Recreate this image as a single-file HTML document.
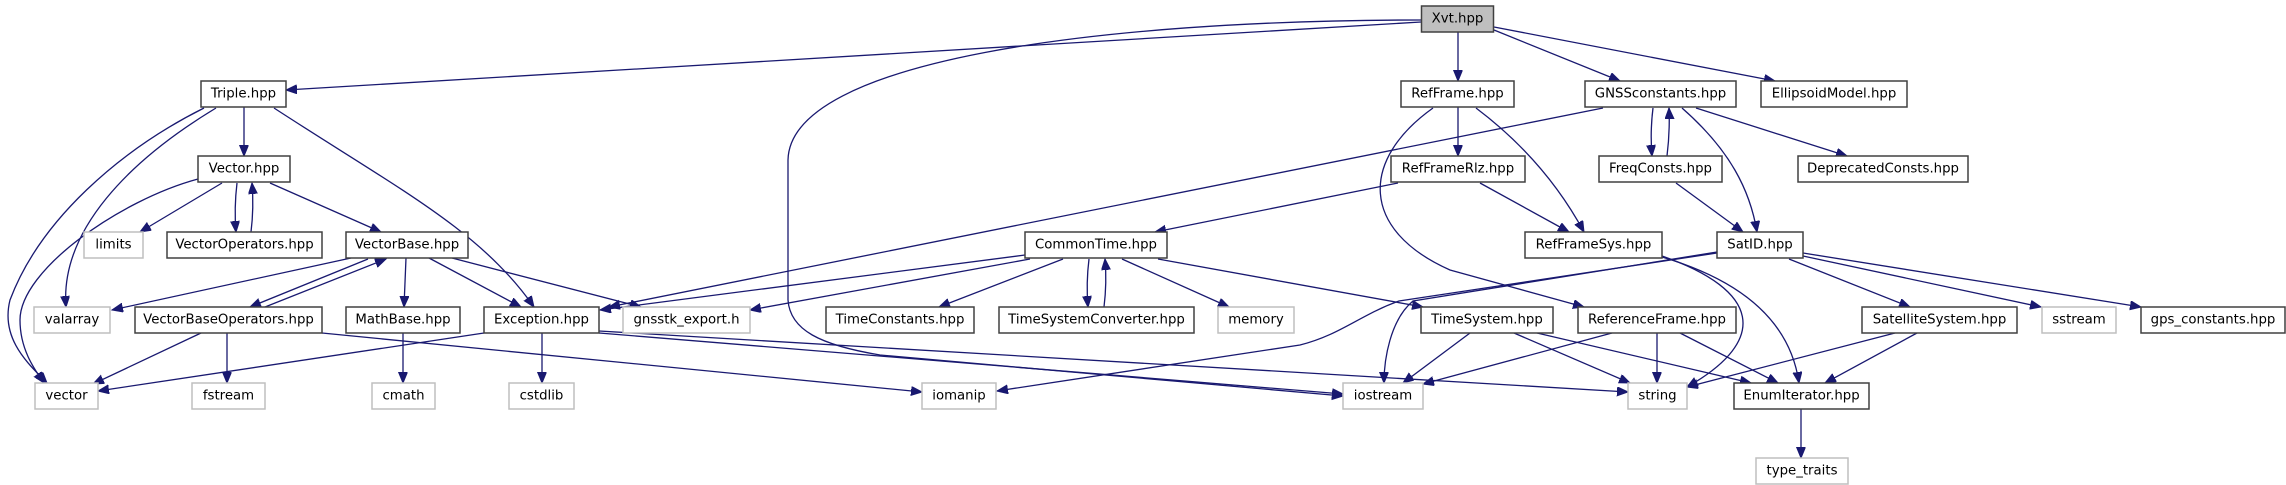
<!DOCTYPE html>
<html><head><meta charset="utf-8"><style>
html,body{margin:0;padding:0;background:#fff;}
svg{display:block;}
text{font-family:"DejaVu Sans","Liberation Sans",sans-serif;font-size:13.3px;fill:#000;text-anchor:middle;dominant-baseline:central;}
.n{fill:#fff;stroke:#404040;stroke-width:1.5;}
.g{fill:#fff;stroke:#bfbfbf;stroke-width:1.5;}
.e{fill:none;stroke:#191970;stroke-width:1.3;marker-end:url(#a);}
</style></head><body>
<svg width="2286" height="485" viewBox="0 0 2286 485" xmlns="http://www.w3.org/2000/svg">
<defs><marker id="a" markerUnits="userSpaceOnUse" markerWidth="12" markerHeight="10" refX="11" refY="4.5" orient="auto"><path d="M0,0 L11,4.5 L0,9 z" fill="#191970" stroke="#191970"/></marker></defs>
<!-- edges -->
<path class="e" d="M1421,22 L286,90"/>
<path class="e" d="M1421,20 C1100,20 790,60 788,160 L788,300 C790,330 820,345 880,355 L1343,396"/>
<path class="e" d="M1458,32 L1458,81"/>
<path class="e" d="M1494,30 L1620,81"/>
<path class="e" d="M1494,27 L1775,81"/>
<path class="e" d="M244,107 L244,156"/>
<path class="e" d="M204,108 C120,150 40,220 10,300 C0,340 30,365 47,383"/>
<path class="e" d="M216,108 C130,160 60,230 66,307"/>
<path class="e" d="M274,108 C400,190 480,230 534,307"/>
<path class="e" d="M222,183 L140,232"/>
<path class="e" d="M237,183 Q234,208 236,232"/>
<path class="e" d="M251,232 Q254,208 252,183"/>
<path class="e" d="M270,183 L381,232"/>
<path class="e" d="M198,179 C120,200 20,270 20,320 C20,350 35,370 44,383"/>
<path class="e" d="M351,258 L112,310"/>
<path class="e" d="M368,259 L250,307"/>
<path class="e" d="M265,307 L386,259"/>
<path class="e" d="M406,258 L404,307"/>
<path class="e" d="M429,258 L521,307"/>
<path class="e" d="M452,258 L641,307"/>
<path class="e" d="M201,333 L93,384"/>
<path class="e" d="M227,333 L227,383"/>
<path class="e" d="M322,333 L922,392"/>
<path class="e" d="M403,333 L403,383"/>
<path class="e" d="M542,333 L542,383"/>
<path class="e" d="M484,333 L98,391"/>
<path class="e" d="M599,333 L1343,394"/>
<path class="e" d="M599,331 L1628,392"/>
<path class="e" d="M1603,108 L609,307"/>
<path class="e" d="M1025,255 L600,310"/>
<path class="e" d="M1030,259 L750,310"/>
<path class="e" d="M1063,259 L939,307"/>
<path class="e" d="M1089,259 Q1086,283 1088,307"/>
<path class="e" d="M1104,307 Q1107,283 1105,259"/>
<path class="e" d="M1122,259 L1229,307"/>
<path class="e" d="M1158,259 L1423,307"/>
<path class="e" d="M1458,107 L1458,156"/>
<path class="e" d="M1476,108 Q1545,160 1584,232"/>
<path class="e" d="M1433,108 C1360,160 1360,230 1450,270 L1584,307"/>
<path class="e" d="M1398,183 L1155,232"/>
<path class="e" d="M1480,183 L1569,232"/>
<path class="e" d="M1653,108 Q1650,132 1652,156"/>
<path class="e" d="M1667,156 Q1670,132 1669,108"/>
<path class="e" d="M1682,108 C1730,150 1750,190 1757,232"/>
<path class="e" d="M1696,108 L1847,156"/>
<path class="e" d="M1676,183 L1743,232"/>
<path class="e" d="M1662,256 C1760,290 1770,340 1687,387"/>
<path class="e" d="M1662,257 C1740,280 1790,320 1799,383"/>
<path class="e" d="M1717,252 L1413,301 C1390,320 1384,360 1384,383"/>
<path class="e" d="M1717,253 L1399,301 C1360,315 1340,335 1300,345 L997,391"/>
<path class="e" d="M1789,259 L1910,307"/>
<path class="e" d="M1803,256 L2041,307"/>
<path class="e" d="M1803,253 L2141,307"/>
<path class="e" d="M1470,333 L1403,383"/>
<path class="e" d="M1514,333 L1630,383"/>
<path class="e" d="M1537,333 L1751,383"/>
<path class="e" d="M1612,333 L1423,384"/>
<path class="e" d="M1657,333 L1657,383"/>
<path class="e" d="M1680,333 L1778,383"/>
<path class="e" d="M1895,333 L1687,387"/>
<path class="e" d="M1917,333 L1825,383"/>
<path class="e" d="M1801,409 L1801,458"/>
<!-- nodes -->
<rect x="1421.5" y="6" width="72" height="26" fill="#bfbfbf" stroke="#404040" stroke-width="1.5"/><text x="1457.5" y="19">Xvt.hpp</text>
<rect class="n" x="201" y="81" width="85" height="26"/><text x="243.5" y="94">Triple.hpp</text>
<rect class="n" x="1401" y="81" width="113" height="26"/><text x="1457.5" y="94">RefFrame.hpp</text>
<rect class="n" x="1585" y="81" width="151" height="26"/><text x="1660.5" y="94">GNSSconstants.hpp</text>
<rect class="n" x="1761" y="81" width="146" height="26"/><text x="1834" y="94">EllipsoidModel.hpp</text>
<rect class="n" x="198" y="156" width="92" height="26"/><text x="244" y="169">Vector.hpp</text>
<rect class="n" x="1391" y="156" width="134" height="26"/><text x="1458" y="169">RefFrameRlz.hpp</text>
<rect class="n" x="1599" y="156" width="123" height="26"/><text x="1660.5" y="169">FreqConsts.hpp</text>
<rect class="n" x="1798" y="156" width="170" height="26"/><text x="1883" y="169">DeprecatedConsts.hpp</text>
<rect class="g" x="84" y="232" width="59" height="26"/><text x="113.5" y="245">limits</text>
<rect class="n" x="167" y="232" width="155" height="26"/><text x="244.5" y="245">VectorOperators.hpp</text>
<rect class="n" x="346" y="232" width="122" height="26"/><text x="407" y="245">VectorBase.hpp</text>
<rect class="n" x="1025" y="232" width="142" height="26"/><text x="1096" y="245">CommonTime.hpp</text>
<rect class="n" x="1525" y="232" width="137" height="26"/><text x="1593.5" y="245">RefFrameSys.hpp</text>
<rect class="n" x="1717" y="232" width="86" height="26"/><text x="1760" y="245">SatID.hpp</text>
<rect class="g" x="34" y="307" width="76" height="26"/><text x="72" y="320">valarray</text>
<rect class="n" x="135" y="307" width="187" height="26"/><text x="228.5" y="320">VectorBaseOperators.hpp</text>
<rect class="n" x="346" y="307" width="114" height="26"/><text x="403" y="320">MathBase.hpp</text>
<rect class="n" x="484" y="307" width="115" height="26"/><text x="541.5" y="320">Exception.hpp</text>
<rect class="g" x="623" y="307" width="127" height="26"/><text x="686.5" y="320">gnsstk_export.h</text>
<rect class="n" x="826" y="307" width="148" height="26"/><text x="900" y="320">TimeConstants.hpp</text>
<rect class="n" x="999" y="307" width="195" height="26"/><text x="1096.5" y="320">TimeSystemConverter.hpp</text>
<rect class="g" x="1218" y="307" width="76" height="26"/><text x="1256" y="320">memory</text>
<rect class="n" x="1421" y="307" width="132" height="26"/><text x="1487" y="320">TimeSystem.hpp</text>
<rect class="n" x="1578" y="307" width="158" height="26"/><text x="1657" y="320">ReferenceFrame.hpp</text>
<rect class="n" x="1862" y="307" width="155" height="26"/><text x="1939.5" y="320">SatelliteSystem.hpp</text>
<rect class="g" x="2042" y="307" width="74" height="26"/><text x="2079" y="320">sstream</text>
<rect class="n" x="2141" y="307" width="144" height="26"/><text x="2213" y="320">gps_constants.hpp</text>
<rect class="g" x="35" y="383" width="63" height="26"/><text x="66.5" y="396">vector</text>
<rect class="g" x="192" y="383" width="73" height="26"/><text x="228.5" y="396">fstream</text>
<rect class="g" x="372" y="383" width="63" height="26"/><text x="403.5" y="396">cmath</text>
<rect class="g" x="509" y="383" width="65" height="26"/><text x="541.5" y="396">cstdlib</text>
<rect class="g" x="922" y="383" width="74" height="26"/><text x="959" y="396">iomanip</text>
<rect class="g" x="1343" y="383" width="80" height="26"/><text x="1383" y="396">iostream</text>
<rect class="g" x="1628" y="383" width="59" height="26"/><text x="1657.5" y="396">string</text>
<rect class="n" x="1734" y="383" width="135" height="26"/><text x="1801.5" y="396">EnumIterator.hpp</text>
<rect class="g" x="1756" y="458" width="92" height="26"/><text x="1802" y="471">type_traits</text>
</svg>
</body></html>
